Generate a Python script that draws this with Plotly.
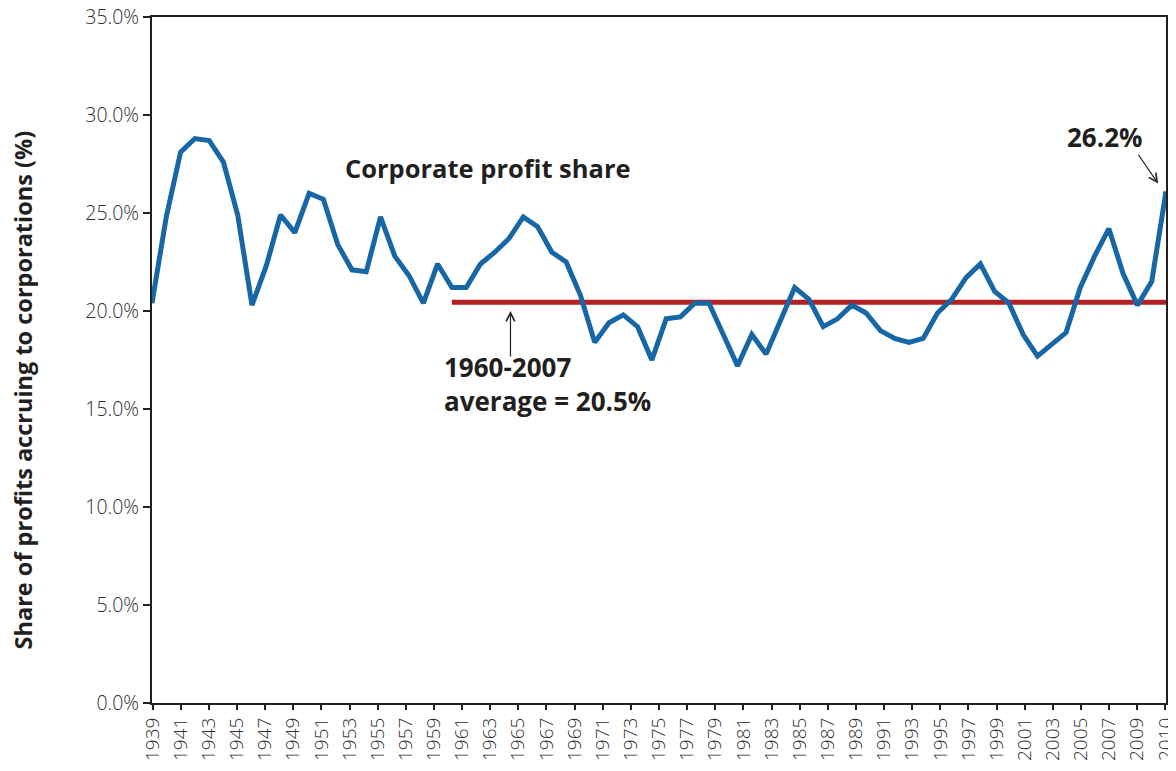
import plotly.graph_objects as go

years = list(range(1939, 2011))
profit_share = [
    20.4, 24.8, 28.1, 28.8, 28.7, 27.6, 24.9, 20.3, 22.3, 24.9,
    24.0, 26.0, 25.7, 23.4, 22.1, 22.0, 24.8, 22.8, 21.8, 20.4,
    22.4, 21.2, 21.2, 22.4, 23.0, 23.7, 24.8, 24.3, 23.0, 22.5,
    20.8, 18.4, 19.4, 19.8, 19.2, 17.5, 19.6, 19.7, 20.4, 20.4,
    18.8, 17.2, 18.8, 17.8, 19.5, 21.2, 20.6, 19.2, 19.6, 20.3,
    19.9, 19.0, 18.6, 18.4, 18.6, 19.9, 20.6, 21.7, 22.4, 21.0,
    20.4, 18.8, 17.7, 18.3, 18.9, 21.2, 22.8, 24.2, 21.9, 20.3,
    21.5, 26.1,
]
avg_years = list(range(1960, 2011))
avg_value = 20.45

# Category labels as printed under the axis (every second year, then 2010 at the end)
tick_labels = [str(y) for y in range(1939, 2010, 2)] + ["2010"]
y_ticks = [0, 5, 10, 15, 20, 25, 30, 35]
y_labels = [f"{v:.1f}%" for v in y_ticks]

blue = "#1767A6"
red = "#B41F24"
axis_col = "#231F20"
txt = "#231F20"
font_fam = "Open Sans, Noto Sans, DejaVu Sans, sans-serif"

fig = go.Figure()
fig.add_trace(go.Scatter(
    x=avg_years, y=[avg_value] * len(avg_years), mode="lines",
    line=dict(color=red, width=5), hoverinfo="skip", showlegend=False))
fig.add_trace(go.Scatter(
    x=years, y=profit_share, mode="lines",
    line=dict(color=blue, width=5), showlegend=False))

fig.add_annotation(x=1962.5, y=27.3, xref="x", yref="y", text="<b>Corporate profit share</b>",
                   showarrow=False, font=dict(size=25.5, color=txt, family=font_fam))
fig.add_annotation(x=1959.3, y=16.28, xref="x", yref="y", xanchor="left",
                   text="<b>1960-2007<br>average = 20.5%</b>", align="left",
                   showarrow=False, font=dict(size=26, color=txt, family=font_fam))
fig.add_annotation(x=1964.1, y=20.0, ax=1964.1, ay=17.6, axref="x", ayref="y",
                   xref="x", yref="y", text="", showarrow=True,
                   arrowhead=5, arrowsize=1.4, arrowwidth=1.2, arrowcolor=txt)
fig.add_annotation(x=2005.67, y=28.88, xref="x", yref="y", text="<b>26.2%</b>",
                   showarrow=False, font=dict(size=26, color=txt, family=font_fam))
fig.add_annotation(x=2009.45, y=26.5, ax=2008.0, ay=28.05, axref="x", ayref="y",
                   xref="x", yref="y", text="", showarrow=True,
                   arrowhead=5, arrowsize=1.4, arrowwidth=1.2, arrowcolor=txt)
fig.add_annotation(x=-0.127, y=0.456, xref="paper", yref="paper", xanchor="center", yanchor="middle",
                   text="<b>Share of profits accruing to corporations (%)</b>", textangle=-90,
                   showarrow=False, font=dict(size=23.5, color=txt, family=font_fam))

fig.update_layout(
    width=1168, height=763,
    margin=dict(l=144, r=10, t=9, b=68, autoexpand=False),
    plot_bgcolor="white", paper_bgcolor="white",
    font=dict(family=font_fam, color=txt),
    xaxis=dict(range=[1939, 2010], showticklabels=False, ticks="",
               showline=True, linecolor=axis_col, linewidth=2, mirror=True,
               showgrid=False, zeroline=False, automargin=False),
    xaxis2=dict(overlaying="x", side="bottom", type="category",
                categoryorder="array", categoryarray=tick_labels,
                range=[-0.02, len(tick_labels) - 1 + 0.02],
                tickangle=-90, ticks="outside", ticklen=6, tickwidth=2, tickcolor=axis_col,
                showline=False, showgrid=False, zeroline=False, automargin=False,
                ticklabeloverflow="allow",
                tickfont=dict(size=19, color="#2e2e2e", family=font_fam, weight=300)),
    yaxis=dict(range=[0, 35], tickmode="array", tickvals=y_ticks, ticktext=y_labels,
               ticks="outside", ticklen=7, tickwidth=2, tickcolor=axis_col,
               showline=True, linecolor=axis_col, linewidth=2, mirror=True,
               showgrid=False, zeroline=False, automargin=False, ticklabeloverflow="allow",
               tickfont=dict(size=19.5, color="#2e2e2e", family=font_fam, weight=300)),
)
# invisible carrier so the label axis is drawn
fig.add_trace(go.Scatter(x=tick_labels, y=[None] * len(tick_labels), xaxis="x2", yaxis="y",
                         mode="lines", hoverinfo="skip", showlegend=False))

fig.write_html("out.html")
